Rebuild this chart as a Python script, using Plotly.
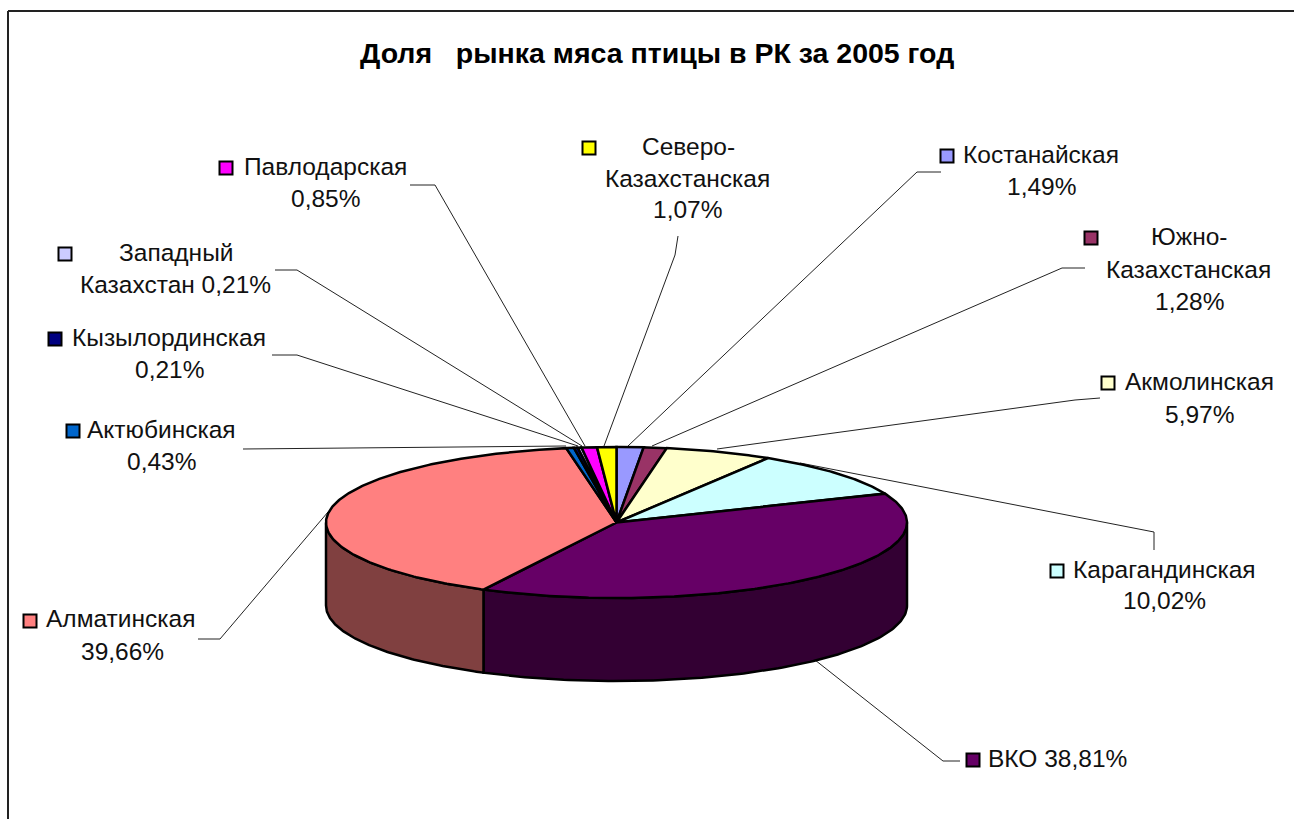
import numpy as np
import plotly.graph_objects as go

# ---- data ----
categories = ["Костанайская", "Южно-Казахстанская", "Акмолинская", "Карагандинская", "ВКО",
              "Алматинская", "Актюбинская", "Кызылординская", "Западный Казахстан",
              "Павлодарская", "Северо-Казахстанская"]
shares = [1.49, 1.28, 5.97, 10.02, 38.81, 39.66, 0.43, 0.21, 0.21, 0.85, 1.07]
title_text = "Доля\u00a0\u00a0\u00a0рынка мяса птицы в РК за 2005 год"

# ---- styles ----
top_colors = ["#9999FF", "#993366", "#FFFFCC", "#CCFFFF", "#660066", "#FF8080",
              "#0066CC", "#000080", "#CCCCFF", "#FF00FF", "#FFFF00"]
side_colors = ["#4D4D80", "#4D1A33", "#808066", "#668080", "#330033", "#804040",
               "#003366", "#000040", "#666680", "#800080", "#808000"]

# ---- layout (pixels) ----
W, H = 1294, 819
CX, CY, RX, RY, DEPTH = 616.5, 522.5, 290.5, 75.5, 83
FONT = "Liberation Sans, Arial, sans-serif"
TEXT_SIZE = 24.5

# lines of each label: (text, centre x, centre y)
label_lines = [
    [("Костанайская", 1041, 154), ("1,49%", 1041, 186)],
    [("Южно-", 1189, 236), ("Казахстанская", 1188, 269), ("1,28%", 1189, 301)],
    [("Акмолинская", 1199, 381), ("5,97%", 1199, 414)],
    [("Карагандинская", 1164, 569), ("10,02%", 1164, 600)],
    [("ВКО 38,81%", 1057, 758)],
    [("Алматинская", 120, 618), ("39,66%", 122, 651)],
    [("Актюбинская", 161, 429), ("0,43%", 161, 461)],
    [("Кызылординская", 169, 337), ("0,21%", 169, 369)],
    [("Западный", 176, 252), ("Казахстан 0,21%", 175, 284)],
    [("Павлодарская", 325, 166), ("0,85%", 325, 198)],
    [("Северо-", 688, 146), ("Казахстанская", 687, 178), ("1,07%", 687, 209)],
]
key_x = [947, 1091, 1108, 1057, 973, 30, 73, 55, 65, 226, 589]
key_y = [156, 238, 383, 571, 760, 621, 431, 339, 254, 168, 148]

leaders = [
    ([941, 917, 628], [172, 172, 446]),
    ([1085, 1062, 652], [268, 268, 446]),
    ([1100, 1075, 717], [398, 400, 449]),
    ([1154, 1154, 800], [550, 532, 463]),
    ([960, 943, 815], [761, 761, 660]),
    ([198, 220, 328], [639, 639, 512]),
    ([243, 566], [449, 446]),
    ([272, 297, 578], [355, 355, 446]),
    ([275, 297, 582], [270, 270, 446]),
    ([410, 435, 585], [185, 185, 446]),
    ([678, 675, 604], [236, 255, 446]),
]


def ex(t):
    return CX + RX * np.sin(t)


def ey(t):
    return CY - RY * np.cos(t)


fig = go.Figure()

# leader lines lie under the pie
for lx, ly in leaders:
    fig.add_trace(go.Scatter(x=lx, y=ly, mode="lines", hoverinfo="skip", showlegend=False,
                             line=dict(color="#222222", width=1)))

edges = np.radians(np.concatenate([[0], np.cumsum(shares)]) * 3.6)

# side walls on the visible front half
for i, name in enumerate(categories):
    a, b = max(edges[i], np.pi / 2), min(edges[i + 1], 3 * np.pi / 2)
    if b <= a:
        continue
    t = np.linspace(a, b, 120)
    xs = np.concatenate([ex(t), ex(t[::-1]), [ex(t[0])]])
    ys = np.concatenate([ey(t), ey(t[::-1]) + DEPTH, [ey(t[0])]])
    fig.add_trace(go.Scatter(x=xs, y=ys, mode="lines", fill="toself", fillcolor=side_colors[i],
                             line=dict(color="black", width=2.5), hoverinfo="skip", showlegend=False))

# top wedges
for i, name in enumerate(categories):
    t = np.linspace(edges[i], edges[i + 1], max(8, int(shares[i] * 6)))
    xs = np.concatenate([[CX], ex(t), [CX]])
    ys = np.concatenate([[CY], ey(t), [CY]])
    fig.add_trace(go.Scatter(x=xs, y=ys, mode="lines", fill="toself", fillcolor=top_colors[i],
                             line=dict(color="black", width=2.5), name=name,
                             text=f"{name}: {shares[i]:.2f}%".replace(".", ","),
                             hoverinfo="text", showlegend=False))

# legend keys beside the labels
fig.add_trace(go.Scatter(x=key_x, y=key_y, mode="markers", hoverinfo="skip", showlegend=False,
                         marker=dict(symbol="square", size=13, color=top_colors,
                                     line=dict(color="black", width=2))))

annotations = [dict(x=657, y=52.5, text=title_text, showarrow=False, xanchor="center", yanchor="middle",
                    font=dict(family=FONT, size=28.5, color="black", weight="bold"))]
for lines in label_lines:
    for text, x, y in lines:
        annotations.append(dict(x=x, y=y, text=text, showarrow=False, xanchor="center", yanchor="middle",
                                font=dict(family=FONT, size=TEXT_SIZE, color="#111111")))

frame = [
    dict(type="line", x0=8, y0=11, x1=W, y1=11, line=dict(color="#222222", width=2)),
    dict(type="line", x0=8, y0=11, x1=8, y1=H, line=dict(color="#222222", width=2)),
]

fig.update_layout(
    width=W, height=H, margin=dict(l=0, r=0, t=0, b=0),
    paper_bgcolor="white", plot_bgcolor="white",
    xaxis=dict(range=[0, W], visible=False, fixedrange=True),
    yaxis=dict(range=[H, 0], visible=False, fixedrange=True),
    annotations=annotations, shapes=frame, showlegend=False,
)

fig.write_html("out.html", post_script="document.body.style.margin='0';document.body.style.overflow='hidden';",
               config=dict(displayModeBar=False))
